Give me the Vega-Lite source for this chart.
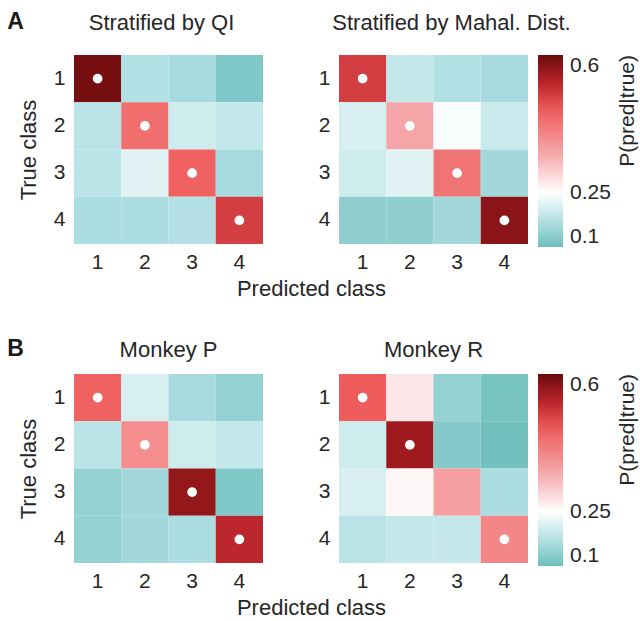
{
  "$schema": "https://vega.github.io/schema/vega-lite/v6.json",
  "padding": {"left": 7, "top": 11, "right": 4, "bottom": 2},
  "background": "white",
  "config": {
    "font": "Liberation Sans",
    "view": {"stroke": null},
    "axis": {"domain": false, "ticks": false, "grid": false, "labelFontSize": 21, "titleFontSize": 22, "labelColor": "#262626", "titleColor": "#262626", "titleFontWeight": "normal", "labelAngle": 0, "labelPadding": 9},
    "title": {"fontSize": 22, "fontWeight": "normal", "color": "#262626", "offset": 20},
    "legend": {"labelColor": "#262626", "titleColor": "#262626"}
  },
  "datasets": {
    "cm": [
      {"panel": "QI", "actual": 1, "predicted": 1, "p": 0.62, "dot": true},
      {"panel": "QI", "actual": 1, "predicted": 2, "p": 0.17, "dot": false},
      {"panel": "QI", "actual": 1, "predicted": 3, "p": 0.16, "dot": false},
      {"panel": "QI", "actual": 1, "predicted": 4, "p": 0.12, "dot": false},
      {"panel": "QI", "actual": 2, "predicted": 1, "p": 0.18, "dot": false},
      {"panel": "QI", "actual": 2, "predicted": 2, "p": 0.45, "dot": true},
      {"panel": "QI", "actual": 2, "predicted": 3, "p": 0.2, "dot": false},
      {"panel": "QI", "actual": 2, "predicted": 4, "p": 0.19, "dot": false},
      {"panel": "QI", "actual": 3, "predicted": 1, "p": 0.18, "dot": false},
      {"panel": "QI", "actual": 3, "predicted": 2, "p": 0.22, "dot": false},
      {"panel": "QI", "actual": 3, "predicted": 3, "p": 0.47, "dot": true},
      {"panel": "QI", "actual": 3, "predicted": 4, "p": 0.16, "dot": false},
      {"panel": "QI", "actual": 4, "predicted": 1, "p": 0.165, "dot": false},
      {"panel": "QI", "actual": 4, "predicted": 2, "p": 0.165, "dot": false},
      {"panel": "QI", "actual": 4, "predicted": 3, "p": 0.175, "dot": false},
      {"panel": "QI", "actual": 4, "predicted": 4, "p": 0.52, "dot": true},
      {"panel": "MD", "actual": 1, "predicted": 1, "p": 0.52, "dot": true},
      {"panel": "MD", "actual": 1, "predicted": 2, "p": 0.19, "dot": false},
      {"panel": "MD", "actual": 1, "predicted": 3, "p": 0.17, "dot": false},
      {"panel": "MD", "actual": 1, "predicted": 4, "p": 0.16, "dot": false},
      {"panel": "MD", "actual": 2, "predicted": 1, "p": 0.21, "dot": false},
      {"panel": "MD", "actual": 2, "predicted": 2, "p": 0.36, "dot": true},
      {"panel": "MD", "actual": 2, "predicted": 3, "p": 0.245, "dot": false},
      {"panel": "MD", "actual": 2, "predicted": 4, "p": 0.195, "dot": false},
      {"panel": "MD", "actual": 3, "predicted": 1, "p": 0.2, "dot": false},
      {"panel": "MD", "actual": 3, "predicted": 2, "p": 0.22, "dot": false},
      {"panel": "MD", "actual": 3, "predicted": 3, "p": 0.44, "dot": true},
      {"panel": "MD", "actual": 3, "predicted": 4, "p": 0.155, "dot": false},
      {"panel": "MD", "actual": 4, "predicted": 1, "p": 0.135, "dot": false},
      {"panel": "MD", "actual": 4, "predicted": 2, "p": 0.135, "dot": false},
      {"panel": "MD", "actual": 4, "predicted": 3, "p": 0.155, "dot": false},
      {"panel": "MD", "actual": 4, "predicted": 4, "p": 0.6, "dot": true},
      {"panel": "P", "actual": 1, "predicted": 1, "p": 0.47, "dot": true},
      {"panel": "P", "actual": 1, "predicted": 2, "p": 0.21, "dot": false},
      {"panel": "P", "actual": 1, "predicted": 3, "p": 0.16, "dot": false},
      {"panel": "P", "actual": 1, "predicted": 4, "p": 0.14, "dot": false},
      {"panel": "P", "actual": 2, "predicted": 1, "p": 0.18, "dot": false},
      {"panel": "P", "actual": 2, "predicted": 2, "p": 0.4, "dot": true},
      {"panel": "P", "actual": 2, "predicted": 3, "p": 0.2, "dot": false},
      {"panel": "P", "actual": 2, "predicted": 4, "p": 0.19, "dot": false},
      {"panel": "P", "actual": 3, "predicted": 1, "p": 0.14, "dot": false},
      {"panel": "P", "actual": 3, "predicted": 2, "p": 0.155, "dot": false},
      {"panel": "P", "actual": 3, "predicted": 3, "p": 0.59, "dot": true},
      {"panel": "P", "actual": 3, "predicted": 4, "p": 0.12, "dot": false},
      {"panel": "P", "actual": 4, "predicted": 1, "p": 0.14, "dot": false},
      {"panel": "P", "actual": 4, "predicted": 2, "p": 0.155, "dot": false},
      {"panel": "P", "actual": 4, "predicted": 3, "p": 0.165, "dot": false},
      {"panel": "P", "actual": 4, "predicted": 4, "p": 0.55, "dot": true},
      {"panel": "R", "actual": 1, "predicted": 1, "p": 0.48, "dot": true},
      {"panel": "R", "actual": 1, "predicted": 2, "p": 0.28, "dot": false},
      {"panel": "R", "actual": 1, "predicted": 3, "p": 0.14, "dot": false},
      {"panel": "R", "actual": 1, "predicted": 4, "p": 0.11, "dot": false},
      {"panel": "R", "actual": 2, "predicted": 1, "p": 0.2, "dot": false},
      {"panel": "R", "actual": 2, "predicted": 2, "p": 0.58, "dot": true},
      {"panel": "R", "actual": 2, "predicted": 3, "p": 0.125, "dot": false},
      {"panel": "R", "actual": 2, "predicted": 4, "p": 0.105, "dot": false},
      {"panel": "R", "actual": 3, "predicted": 1, "p": 0.21, "dot": false},
      {"panel": "R", "actual": 3, "predicted": 2, "p": 0.26, "dot": false},
      {"panel": "R", "actual": 3, "predicted": 3, "p": 0.37, "dot": false},
      {"panel": "R", "actual": 3, "predicted": 4, "p": 0.165, "dot": false},
      {"panel": "R", "actual": 4, "predicted": 1, "p": 0.18, "dot": false},
      {"panel": "R", "actual": 4, "predicted": 2, "p": 0.19, "dot": false},
      {"panel": "R", "actual": 4, "predicted": 3, "p": 0.19, "dot": false},
      {"panel": "R", "actual": 4, "predicted": 4, "p": 0.41, "dot": true}
    ]
  },
  "resolve": {"scale": {"color": "independent"}},
  "spacing": 39,
  "vconcat": [
    {
      "title": {"text": "A", "anchor": "start", "fontWeight": "bold", "fontSize": 23, "offset": -22, "dx": -10, "color": "#1a1a1a"},
      "bounds": "flush",
      "spacing": 76,
      "resolve": {"scale": {"color": "shared"}},
      "hconcat": [
        {
          "width": 189, "height": 189,
          "title": {"text": "Stratified by QI", "dx": -7},
          "data": {"name": "cm"},
          "transform": [{"filter": "datum.panel === 'QI'"}],
          "encoding": {
            "x": {"field": "predicted", "type": "ordinal", "scale": {"paddingInner": 0, "paddingOuter": 0}, "axis": {"title": "Predicted class", "titleX": 237, "titlePadding": 6, "labelPadding": 7}},
            "y": {"field": "actual", "type": "ordinal", "scale": {"paddingInner": 0, "paddingOuter": 0}, "axis": {"title": "True class", "titlePadding": 13}}
          },
          "layer": [
            {"mark": {"type": "rect"}, "encoding": {"color": {"field": "p", "type": "quantitative", "scale": {"domain": [0.1, 0.17, 0.25, 0.36, 0.48, 0.56, 0.63], "range": ["#6dbfbb", "#b0dfe4", "#ffffff", "#f5a5a7", "#ef5c5c", "#b41f25", "#6a0c0c"], "interpolate": "rgb", "clamp": true}, "legend": {"title": "P(pred|true)", "orient": "right", "offset": -33, "gradientLength": 192, "gradientThickness": 25, "gradientStrokeWidth": 0, "labelFontSize": 21, "titleFontSize": 21, "titleFontWeight": "normal", "titleOrient": "right", "titleAnchor": "end", "titlePadding": 5, "labelOffset": 7, "values": [0.1, 0.25, 0.6], "format": ".2~f", "labelOverlap": false, "encode": {"title": {"update": {"angle": {"value": 270}, "align": {"value": "right"}, "dy": {"value": 22}}}}}}}},
            {"mark": {"type": "point", "filled": true, "color": "white", "size": 95, "opacity": 1}, "transform": [{"filter": "datum.dot"}]}
          ]
        },
        {
          "width": 189, "height": 189,
          "title": {"text": "Stratified by Mahal. Dist.", "dx": 18},
          "data": {"name": "cm"},
          "transform": [{"filter": "datum.panel === 'MD'"}],
          "encoding": {
            "x": {"field": "predicted", "type": "ordinal", "scale": {"paddingInner": 0, "paddingOuter": 0}, "axis": {"title": null, "labelPadding": 7}},
            "y": {"field": "actual", "type": "ordinal", "scale": {"paddingInner": 0, "paddingOuter": 0}, "axis": {"title": null}}
          },
          "layer": [
            {"mark": {"type": "rect"}, "encoding": {"color": {"field": "p", "type": "quantitative", "scale": {"domain": [0.1, 0.17, 0.25, 0.36, 0.48, 0.56, 0.63], "range": ["#6dbfbb", "#b0dfe4", "#ffffff", "#f5a5a7", "#ef5c5c", "#b41f25", "#6a0c0c"], "interpolate": "rgb", "clamp": true}, "legend": {"title": "P(pred|true)", "orient": "right", "offset": -33, "gradientLength": 192, "gradientThickness": 25, "gradientStrokeWidth": 0, "labelFontSize": 21, "titleFontSize": 21, "titleFontWeight": "normal", "titleOrient": "right", "titleAnchor": "end", "titlePadding": 5, "labelOffset": 7, "values": [0.1, 0.25, 0.6], "format": ".2~f", "labelOverlap": false, "encode": {"title": {"update": {"angle": {"value": 270}, "align": {"value": "right"}, "dy": {"value": 22}}}}}}}},
            {"mark": {"type": "point", "filled": true, "color": "white", "size": 95, "opacity": 1}, "transform": [{"filter": "datum.dot"}]}
          ]
        }
      ]
    },
    {
      "title": {"text": "B", "anchor": "start", "fontWeight": "bold", "fontSize": 23, "offset": -22, "dx": -10, "color": "#1a1a1a"},
      "bounds": "flush",
      "spacing": 76,
      "resolve": {"scale": {"color": "shared"}},
      "hconcat": [
        {
          "width": 189, "height": 189,
          "title": {"text": "Monkey P", "offset": 12},
          "data": {"name": "cm"},
          "transform": [{"filter": "datum.panel === 'P'"}],
          "encoding": {
            "x": {"field": "predicted", "type": "ordinal", "scale": {"paddingInner": 0, "paddingOuter": 0}, "axis": {"title": "Predicted class", "titleX": 237, "titlePadding": 6, "labelPadding": 7}},
            "y": {"field": "actual", "type": "ordinal", "scale": {"paddingInner": 0, "paddingOuter": 0}, "axis": {"title": "True class", "titlePadding": 13}}
          },
          "layer": [
            {"mark": {"type": "rect"}, "encoding": {"color": {"field": "p", "type": "quantitative", "scale": {"domain": [0.1, 0.17, 0.25, 0.36, 0.48, 0.56, 0.63], "range": ["#6dbfbb", "#b0dfe4", "#ffffff", "#f5a5a7", "#ef5c5c", "#b41f25", "#6a0c0c"], "interpolate": "rgb", "clamp": true}, "legend": {"title": "P(pred|true)", "orient": "right", "offset": 10, "gradientLength": 192, "gradientThickness": 25, "gradientStrokeWidth": 0, "labelFontSize": 21, "titleFontSize": 21, "titleFontWeight": "normal", "titleOrient": "right", "titleAnchor": "end", "titlePadding": 5, "labelOffset": 7, "values": [0.1, 0.25, 0.6], "format": ".2~f", "labelOverlap": false, "encode": {"title": {"update": {"angle": {"value": 270}, "align": {"value": "right"}, "dy": {"value": 22}}}}}}}},
            {"mark": {"type": "point", "filled": true, "color": "white", "size": 95, "opacity": 1}, "transform": [{"filter": "datum.dot"}]}
          ]
        },
        {
          "width": 189, "height": 189,
          "title": {"text": "Monkey R", "offset": 12},
          "data": {"name": "cm"},
          "transform": [{"filter": "datum.panel === 'R'"}],
          "encoding": {
            "x": {"field": "predicted", "type": "ordinal", "scale": {"paddingInner": 0, "paddingOuter": 0}, "axis": {"title": null, "labelPadding": 7}},
            "y": {"field": "actual", "type": "ordinal", "scale": {"paddingInner": 0, "paddingOuter": 0}, "axis": {"title": null}}
          },
          "layer": [
            {"mark": {"type": "rect"}, "encoding": {"color": {"field": "p", "type": "quantitative", "scale": {"domain": [0.1, 0.17, 0.25, 0.36, 0.48, 0.56, 0.63], "range": ["#6dbfbb", "#b0dfe4", "#ffffff", "#f5a5a7", "#ef5c5c", "#b41f25", "#6a0c0c"], "interpolate": "rgb", "clamp": true}, "legend": {"title": "P(pred|true)", "orient": "right", "offset": 10, "gradientLength": 192, "gradientThickness": 25, "gradientStrokeWidth": 0, "labelFontSize": 21, "titleFontSize": 21, "titleFontWeight": "normal", "titleOrient": "right", "titleAnchor": "end", "titlePadding": 5, "labelOffset": 7, "values": [0.1, 0.25, 0.6], "format": ".2~f", "labelOverlap": false, "encode": {"title": {"update": {"angle": {"value": 270}, "align": {"value": "right"}, "dy": {"value": 22}}}}}}}},
            {"mark": {"type": "point", "filled": true, "color": "white", "size": 95, "opacity": 1}, "transform": [{"filter": "datum.dot"}]}
          ]
        }
      ]
    }
  ]
}
